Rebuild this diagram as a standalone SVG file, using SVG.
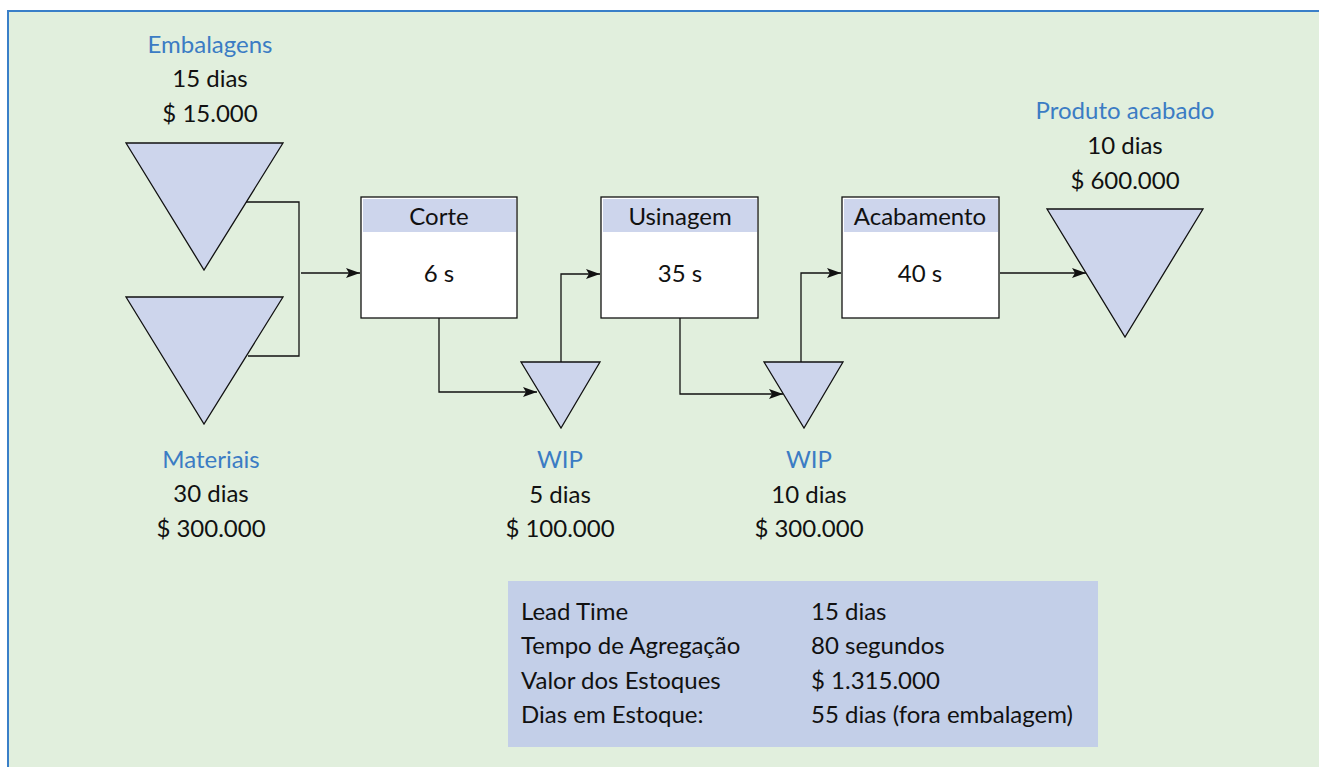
<svg xmlns="http://www.w3.org/2000/svg" width="1319" height="767" viewBox="0 0 1319 767">
<defs>
<style>
.t{font-family:Lato,"Open Sans","Liberation Sans",sans-serif;font-size:24px;fill:#111;text-anchor:middle}
.b{fill:#3b7cc4}
.l{text-anchor:start}
.tri{fill:#cdd5ec;stroke:#111;stroke-width:1.3}
.box{fill:#fff;stroke:#111;stroke-width:1.3}
.hdr{fill:#cdd5ec}
.c{fill:none;stroke:#111;stroke-width:1.3}
</style>
<marker id="ar" viewBox="0 0 14 10" refX="14" refY="5" markerWidth="14" markerHeight="10" markerUnits="userSpaceOnUse" orient="auto">
<path d="M0,0 L14,5 L0,10 L3,5 Z" fill="#111"/>
</marker>
</defs>
<rect x="0" y="0" width="1319" height="767" fill="#fff"/>
<rect x="8" y="11" width="1320" height="770" fill="#e1efdd" stroke="#3a7fc8" stroke-width="2"/>

<g id="embalagens">
<polygon class="tri" points="126,143 283,143 204,270"/>
<text class="t b" x="210" y="53">Embalagens</text>
<text class="t" x="210" y="87">15 dias</text>
<text class="t" x="210" y="122">$ 15.000</text>
</g>
<g id="materiais">
<polygon class="tri" points="126,297 283,297 204,424"/>
<text class="t b" x="211" y="468">Materiais</text>
<text class="t" x="211" y="502">30 dias</text>
<text class="t" x="211" y="537">$ 300.000</text>
</g>
<g id="corte">
<rect class="box" x="361" y="197" width="156" height="121"/>
<rect class="hdr" x="363" y="199" width="153" height="33"/>
<text class="t" x="439" y="225">Corte</text>
<text class="t" x="439" y="282">6 s</text>
</g>
<g id="usinagem">
<rect class="box" x="601" y="197" width="157" height="121"/>
<rect class="hdr" x="603" y="199" width="154" height="33"/>
<text class="t" x="680" y="225">Usinagem</text>
<text class="t" x="680" y="282">35 s</text>
</g>
<g id="acabamento">
<rect class="box" x="842" y="197" width="157" height="121"/>
<rect class="hdr" x="844" y="199" width="154" height="33"/>
<text class="t" x="920" y="225">Acabamento</text>
<text class="t" x="920" y="282">40 s</text>
</g>
<g id="wip1">
<polygon class="tri" points="521,362 600,362 561,428"/>
<text class="t b" x="560" y="468">WIP</text>
<text class="t" x="560" y="503">5 dias</text>
<text class="t" x="560" y="537">$ 100.000</text>
</g>
<g id="wip2">
<polygon class="tri" points="764,362 843,362 804,428"/>
<text class="t b" x="809" y="468">WIP</text>
<text class="t" x="809" y="503">10 dias</text>
<text class="t" x="809" y="537">$ 300.000</text>
</g>
<g id="produto">
<polygon class="tri" points="1047,209 1203,209 1125,337"/>
<text class="t b" x="1125" y="119">Produto acabado</text>
<text class="t" x="1125" y="154">10 dias</text>
<text class="t" x="1125" y="189">$ 600.000</text>
</g>
<g id="resumo">
<rect x="508" y="581" width="590" height="166" fill="#c3cfe8"/>
<text class="t l" x="521" y="620">Lead Time</text>
<text class="t l" x="521" y="654">Tempo de Agregação</text>
<text class="t l" x="521" y="689">Valor dos Estoques</text>
<text class="t l" x="521" y="723">Dias em Estoque:</text>
<text class="t l" x="811" y="620">15 dias</text>
<text class="t l" x="811" y="654">80 segundos</text>
<text class="t l" x="811" y="689">$ 1.315.000</text>
<text class="t l" x="811" y="723">55 dias (fora embalagem)</text>
</g>
<g id="connectors">
<polyline class="c" points="246,202 299,202 299,356 248,356"/>
<line class="c" x1="301" y1="273" x2="360" y2="273" marker-end="url(#ar)"/>
<polyline class="c" points="439,318 439,392 537,392" marker-end="url(#ar)"/>
<polyline class="c" points="561,362 561,274 600,274" marker-end="url(#ar)"/>
<polyline class="c" points="680,318 680,394 783,394" marker-end="url(#ar)"/>
<polyline class="c" points="801,362 801,273 841,273" marker-end="url(#ar)"/>
<line class="c" x1="1000" y1="273" x2="1086" y2="273" marker-end="url(#ar)"/>
</g>
</svg>
